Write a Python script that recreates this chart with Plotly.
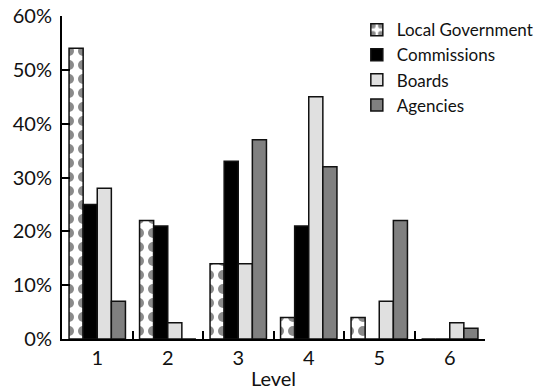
import plotly.graph_objects as go

levels = ["1", "2", "3", "4", "5", "6"]
local_government = [54, 22, 14, 4, 4, 0]
commissions = [25, 21, 33, 21, 0, 0]
boards = [28, 3, 14, 45, 7, 3]
agencies = [7, 0, 37, 32, 22, 2]
y_ticks = [0, 10, 20, 30, 40, 50, 60]
y_tick_labels = [f"{v}%" for v in y_ticks]

FONT = "Lato, 'Open Sans', sans-serif"
edge = dict(color="#111111", width=1.5)

fig = go.Figure()
fig.add_trace(go.Bar(
    x=levels, y=local_government, name="Local Government", legendgroup="a",
    marker=dict(color="white", line=edge,
                pattern=dict(shape=".", fgcolor="#8a8a8a", bgcolor="white",
                             size=14, solidity=0.4, fillmode="replace")),
))
fig.add_trace(go.Bar(x=levels, y=commissions, name="Commissions", legendgroup="b",
                     marker=dict(color="#000000", line=edge)))
fig.add_trace(go.Bar(x=levels, y=boards, name="Boards", legendgroup="c",
                     marker=dict(color="#e0e0e0", line=edge)))
fig.add_trace(go.Bar(x=levels, y=agencies, name="Agencies", legendgroup="d",
                     marker=dict(color="#808080", line=edge)))

fig.update_layout(
    width=540, height=390,
    margin=dict(l=62, r=55, t=16, b=51, autoexpand=False),
    paper_bgcolor="white", plot_bgcolor="white",
    font=dict(family=FONT, size=20, color="#111111"),
    barmode="group", bargap=0.2, bargroupgap=0,
    showlegend=True,
    legend=dict(x=0.697, y=1.012, xanchor="left", yanchor="top",
                font=dict(size=17, family=FONT), tracegroupgap=0,
                bgcolor="rgba(0,0,0,0)", itemwidth=30),
    xaxis=dict(
        type="category", showline=True, linecolor="#000000", linewidth=2,
        ticks="inside", tickson="boundaries", ticklen=8, tickwidth=2,
        tickcolor="#000000", showgrid=False, zeroline=False, automargin=False,
        title=dict(text="Level", font=dict(size=20), standoff=4),
        tickfont=dict(size=20),
    ),
    yaxis=dict(
        range=[0, 60], tickvals=y_ticks, ticktext=y_tick_labels,
        showline=True, linecolor="#000000", linewidth=2, automargin=False,
        ticks="inside", ticklen=8, tickwidth=2, tickcolor="#000000",
        showgrid=False, zeroline=False, tickfont=dict(size=20),
        ticklabelstandoff=4, ticklabeloverflow="allow",
    ),
)

# remove the browser's default 8px body margin so the figure fills the window
fig.write_html("out.html", config={"displayModeBar": False},
               post_script="document.body.style.margin='0';")
